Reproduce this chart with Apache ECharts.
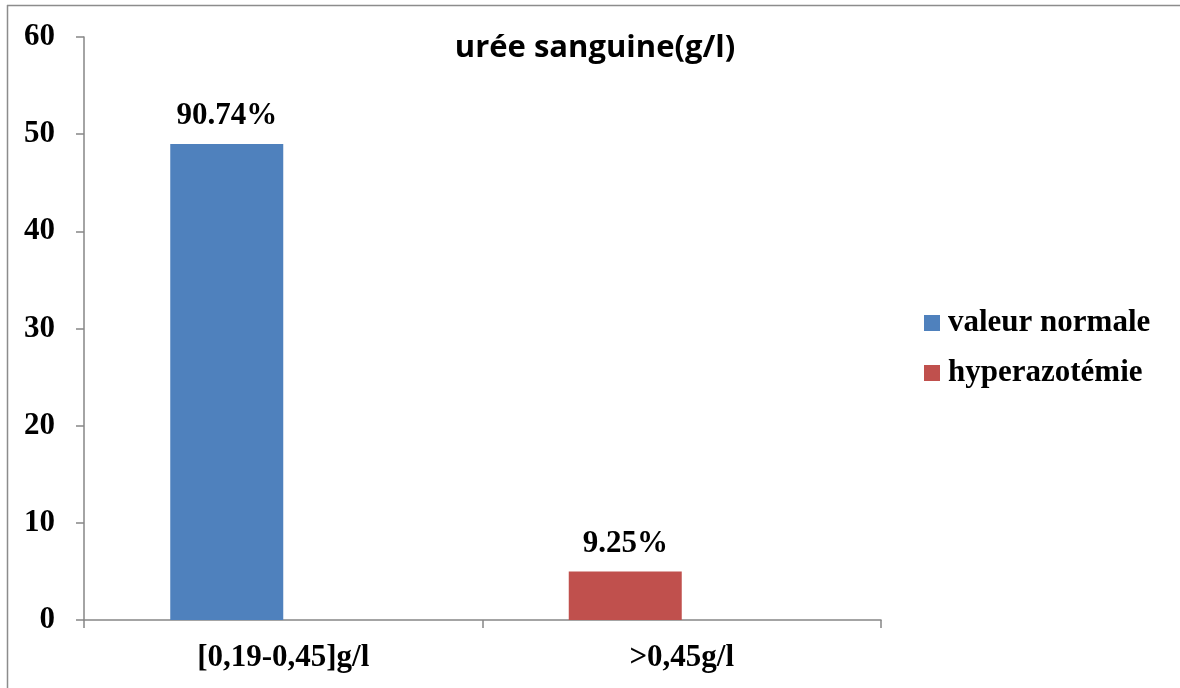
<!DOCTYPE html>
<html>
<head>
<meta charset="utf-8">
<script src="https://cdn.jsdelivr.net/npm/echarts@6/dist/echarts.min.js"></script>
<style>
  html, body { margin: 0; padding: 0; background: #fff; }
  #chart { width: 1180px; height: 688px; }
</style>
</head>
<body>
<div id="chart"></div>
<script>
// Blood urea categories and patient counts
const categories = ['[0,19-0,45]g/l', '>0,45g/l'];
const seriesNames = ['valeur normale', 'hyperazotémie'];
const normalCounts = [49, null];
const highCounts = [null, 5];
const normalLabels = ['90.74%', ''];
const highLabels = ['', '9.25%'];
const yTicks = { min: 0, max: 60, interval: 10 };

const serif = '"Liberation Serif", "Times New Roman", serif';
const axisGray = '#868686';
const textSize = 31;

const chart = echarts.init(document.getElementById('chart'));

const labelStyle = (texts) => ({
  show: true,
  position: 'top',
  distance: 12,
  fontFamily: serif,
  fontWeight: 'bold',
  fontSize: textSize,
  color: '#000',
  formatter: (p) => texts[p.dataIndex]
});

chart.setOption({
  animation: false,
  backgroundColor: '#fff',
  title: {
    text: 'urée sanguine(g/l)',
    left: 595,
    top: 33,
    padding: 0,
    textAlign: 'center',
    textStyle: { fontFamily: '"Open Sans", sans-serif', fontWeight: 'bold', fontSize: 31, color: '#000' }
  },
  legend: {
    data: seriesNames,
    orient: 'vertical',
    left: 924,
    top: 307,
    padding: 0,
    itemWidth: 16,
    itemHeight: 16,
    itemGap: 18,
    icon: 'rect',
    textStyle: { fontFamily: serif, fontWeight: 'bold', fontSize: textSize, lineHeight: 32, color: '#000', padding: [0, 0, 0, 3] }
  },
  grid: { left: 84, right: 299, top: 37, bottom: 68, containLabel: false },
  xAxis: {
    type: 'category',
    data: categories,
    axisLine: { lineStyle: { color: axisGray, width: 1.5 } },
    axisTick: { show: true, length: 8, alignWithLabel: false, lineStyle: { color: axisGray, width: 1.5 } },
    axisLabel: { margin: 22, fontFamily: serif, fontWeight: 'bold', fontSize: textSize, color: '#000' },
    splitLine: { show: false }
  },
  yAxis: {
    type: 'value',
    min: yTicks.min,
    max: yTicks.max,
    interval: yTicks.interval,
    axisLine: { show: true, lineStyle: { color: axisGray, width: 1.5 } },
    axisTick: { show: true, length: 8, lineStyle: { color: axisGray, width: 1.5 } },
    axisLabel: { margin: 29, fontFamily: serif, fontWeight: 'bold', fontSize: textSize, color: '#000' },
    splitLine: { show: false }
  },
  series: [
    {
      name: seriesNames[0],
      type: 'bar',
      stack: 'counts',
      barWidth: 113,
      barGap: '0%',
      itemStyle: { color: '#4F81BD' },
      label: labelStyle(normalLabels),
      data: normalCounts
    },
    {
      name: seriesNames[1],
      type: 'bar',
      stack: 'counts',
      barWidth: 113,
      barGap: '0%',
      itemStyle: { color: '#C0504D' },
      label: labelStyle(highLabels),
      data: highCounts
    },
    {
      // empty slot to the right of each bar
      name: 'slot',
      type: 'bar',
      barWidth: 113,
      barGap: '0%',
      data: [null, null]
    }
  ],
  graphic: [
    { type: 'line', shape: { x1: 7, y1: 5.5, x2: 1180, y2: 5.5 }, style: { stroke: '#8c8c8c', lineWidth: 1.5 } },
    { type: 'line', shape: { x1: 7.5, y1: 5, x2: 7.5, y2: 688 }, style: { stroke: '#8c8c8c', lineWidth: 1.5 } }
  ]
});
</script>
</body>
</html>
